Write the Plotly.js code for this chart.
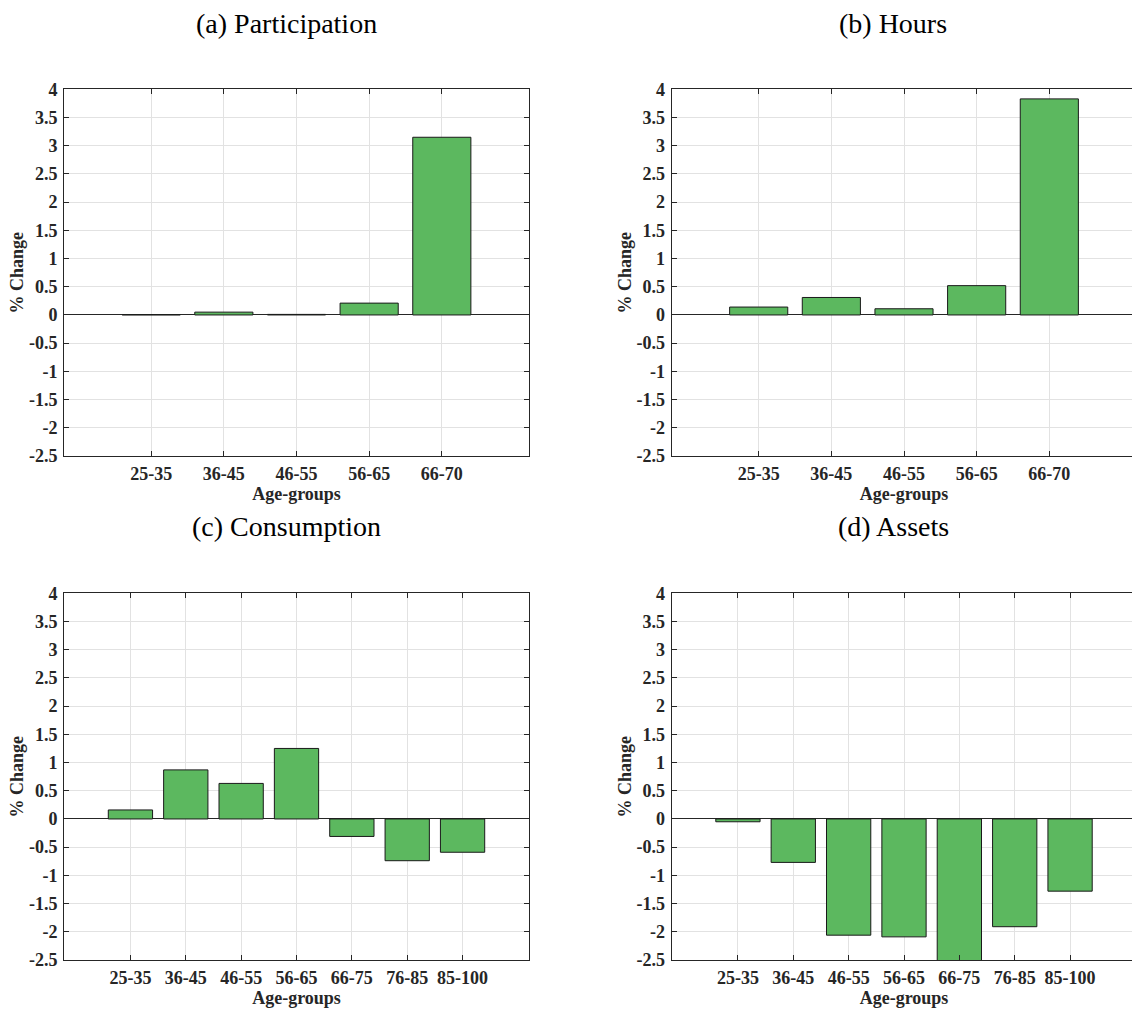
<!DOCTYPE html>
<html>
<head>
<meta charset="utf-8">
<script src="https://cdn.plot.ly/plotly-3.0.1.min.js"></script>
<style>
  html, body { margin: 0; padding: 0; overflow: hidden; background: #ffffff; }
  #chart { width: 1140px; height: 1011px; }
</style>
</head>
<body>
<div id="chart"></div>
<script>
// Age groups for the working-life panels and the whole-life panels
const ageGroupsWork = ['25-35', '36-45', '46-55', '56-65', '66-70'];
const ageGroupsLife = ['25-35', '36-45', '46-55', '56-65', '66-75', '76-85', '85-100'];

// Percentage change by age group
const participation = [0.005, 0.05, 0.01, 0.21, 3.15];
const hours = [0.14, 0.31, 0.11, 0.52, 3.83];
const consumption = [0.16, 0.87, 0.63, 1.25, -0.31, -0.74, -0.59];
const assets = [-0.05, -0.77, -2.06, -2.09, -2.62, -1.91, -1.28];

// Shared vertical axis ticks
const yTickVals = [-2.5, -2, -1.5, -1, -0.5, 0, 0.5, 1, 1.5, 2, 2.5, 3, 3.5, 4];
const yTickText = ['-2.5', '-2', '-1.5', '-1', '-0.5', '0', '0.5', '1', '1.5', '2', '2.5', '3', '3.5', '4'];

const panelTitles = ['(a) Participation', '(b) Hours', '(c) Consumption', '(d) Assets'];
const xTitle = 'Age-groups';
const yTitle = '% Change';

// Page geometry (pixels)
const W = 1140, H = 1011;
const colLeft = [64, 671.5];
const colRight = [529, 1136.5];
const rowTop = [89.3, 593.3];
const rowBottom = [456, 960];

const serif = 'Liberation Serif, Times New Roman, Times, serif';
const ink = '#262626';
const barFill = '#5cb85f';

function px2x(p) { return p / W; }
function px2y(p) { return (H - p) / H; }

const panels = [
  { cats: ageGroupsWork, vals: participation, col: 0, row: 0 },
  { cats: ageGroupsWork, vals: hours, col: 1, row: 0 },
  { cats: ageGroupsLife, vals: consumption, col: 0, row: 1 },
  { cats: ageGroupsLife, vals: assets, col: 1, row: 1 }
];

const data = [];
const layout = {
  width: W,
  height: H,
  margin: { l: 0, r: 0, t: 0, b: 0 },
  paper_bgcolor: '#ffffff',
  plot_bgcolor: '#ffffff',
  showlegend: false,
  annotations: []
};

panels.forEach((p, i) => {
  const n = i + 1;
  const xa = 'x' + (n === 1 ? '' : n);
  const ya = 'y' + (n === 1 ? '' : n);
  data.push({
    type: 'bar',
    x: p.cats,
    y: p.vals,
    xaxis: xa,
    yaxis: ya,
    width: 0.8,
    marker: { color: barFill, line: { color: '#1a1a1a', width: 1 } },
    hoverinfo: 'x+y'
  });

  const common = {
    showline: true,
    linecolor: ink,
    linewidth: 1,
    mirror: 'ticks',
    ticks: 'inside',
    ticklen: 5,
    tickwidth: 1,
    tickcolor: ink,
    showgrid: true,
    gridcolor: '#e2e2e2',
    gridwidth: 1,
    automargin: false,
    fixedrange: true,
    tickfont: { family: serif, size: 18, color: ink, weight: 'bold' }
  };

  layout['xaxis' + (n === 1 ? '' : n)] = Object.assign({}, common, {
    anchor: ya,
    type: 'category',
    domain: [px2x(colLeft[p.col]), px2x(colRight[p.col])],
    range: [-1.2, p.cats.length - 1 + 1.2],
    zeroline: false,
    ticklabelstandoff: 1,
    title: { text: xTitle, standoff: 2, font: { family: serif, size: 18, color: ink, weight: 'bold' } }
  });

  layout['yaxis' + (n === 1 ? '' : n)] = Object.assign({}, common, {
    anchor: xa,
    domain: [px2y(rowBottom[p.row]), px2y(rowTop[p.row])],
    range: [-2.5, 4],
    tickmode: 'array',
    tickvals: yTickVals,
    ticktext: yTickText,
    zeroline: true,
    zerolinecolor: ink,
    zerolinewidth: 1,
    ticklabelstandoff: 2,
    title: { text: yTitle, standoff: 0, font: { family: serif, size: 18, color: ink, weight: 'bold' } }
  });

  const titleX = [286, 893][p.col];
  const titleY = [23, 526][p.row];
  layout.annotations.push({
    text: panelTitles[i],
    xref: 'paper', yref: 'paper',
    x: px2x(titleX), y: px2y(titleY),
    xanchor: 'center', yanchor: 'middle',
    showarrow: false,
    font: { family: serif, size: 28, color: '#000000' }
  });
});

Plotly.newPlot('chart', data, layout, { displayModeBar: false, responsive: false, staticPlot: false });
</script>
</body>
</html>
